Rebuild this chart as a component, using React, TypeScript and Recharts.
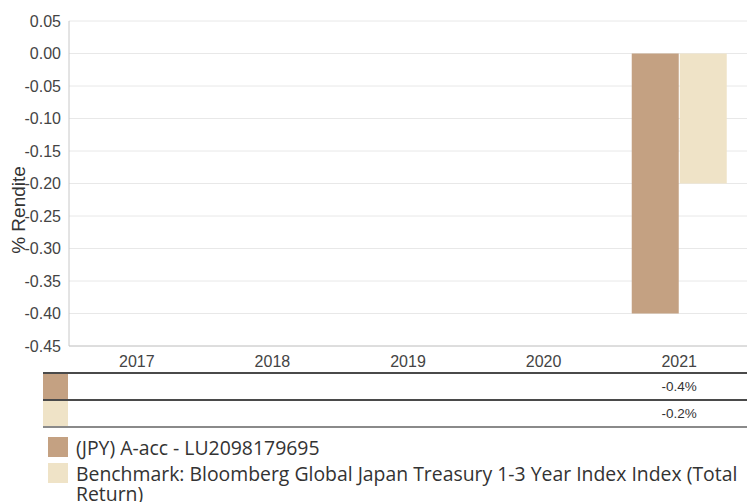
import React from 'react';
import { BarChart, Bar, XAxis, YAxis, CartesianGrid, Label } from 'recharts';

const categories = ['2017', '2018', '2019', '2020', '2021'];
const fundValues: (number | null)[] = [null, null, null, null, -0.4];
const benchValues: (number | null)[] = [null, null, null, null, -0.2];
const yTicks = [0.05, 0.0, -0.05, -0.1, -0.15, -0.2, -0.25, -0.3, -0.35, -0.4, -0.45];
const seriesNames = [
  '(JPY) A-acc - LU2098179695',
  'Benchmark: Bloomberg Global Japan Treasury 1-3 Year Index Index (Total Return)',
];
const seriesColors = ['#C4A182', '#EFE3C7'];
const seriesValues = [fundValues, benchValues];

const data = categories.map((year, i) => ({ year, fund: fundValues[i], bench: benchValues[i] }));

const W = 747;
const CHART_H = 372;
const Y_AXIS_W = 69;
const COL_W = (W - Y_AXIS_W) / categories.length;
const TICK_FONT = 'Liberation Sans, Arial, sans-serif';

export default function App() {
  return (
    <div style={{ position: 'absolute', left: 0, top: 0, width: W, height: 502, background: '#fff', overflow: 'hidden' }}>
      <BarChart
        width={W}
        height={CHART_H}
        data={data}
        margin={{ top: 21, right: 0, bottom: 0, left: 0 }}
        barCategoryGap="15%"
        barGap={1}
      >
        <CartesianGrid vertical={false} stroke="#e8e8e8" />
        <XAxis
          dataKey="year"
          height={26}
          tickLine={false}
          axisLine={{ stroke: '#c8c8c8' }}
          tickMargin={4}
          tick={{ fill: '#444', fontSize: 16, fontFamily: TICK_FONT }}
        />
        <YAxis
          width={Y_AXIS_W}
          domain={[-0.45, 0.05]}
          ticks={yTicks}
          interval={0}
          allowDataOverflow
          tickLine={false}
          axisLine={{ stroke: '#c8c8c8' }}
          tickFormatter={(v: number) => v.toFixed(2)}
          tick={{ fill: '#444', fontSize: 16, fontFamily: TICK_FONT }}
        >
          <Label
            content={() => (
              <text
                x={25}
                y={210}
                transform="rotate(-90, 25, 210)"
                textAnchor="middle"
                fill="#333"
                fontSize={19}
                fontFamily={TICK_FONT}
              >
                % Rendite
              </text>
            )}
          />
        </YAxis>
        <Bar dataKey="fund" fill={seriesColors[0]} isAnimationActive={false} />
        <Bar dataKey="bench" fill={seriesColors[1]} isAnimationActive={false} />
      </BarChart>

      <div style={{ position: 'absolute', left: 43, top: 372, width: W - 43 }}>
        {seriesValues.map((vals, r) => (
          <div
            key={r}
            style={{
              display: 'flex',
              height: 25,
              borderTop: '2px solid #4a4a4a',
              borderBottom: r === seriesValues.length - 1 ? '2px solid #8a8a8a' : 'none',
            }}
          >
            <div style={{ width: 25, height: 25, background: seriesColors[r], marginRight: 1 }} />
            {vals.map((v, i) => (
              <div
                key={i}
                style={{
                  width: COL_W,
                  textAlign: 'center',
                  lineHeight: '25px',
                  fontSize: 13.5,
                  color: '#333',
                  fontFamily: TICK_FONT,
                }}
              >
                {v == null ? '' : `${v.toFixed(1)}%`}
              </div>
            ))}
          </div>
        ))}
      </div>

      <div style={{ position: 'absolute', left: 48, top: 437, width: 699, fontFamily: 'Open Sans, sans-serif', fontSize: 19.4, color: '#333' }}>
        {seriesNames.map((name, i) => (
          <div key={i} style={{ display: 'flex', alignItems: 'flex-start', marginBottom: 5 }}>
            <div style={{ width: 20, height: 20, background: seriesColors[i], flex: 'none' }} />
            <div style={{ marginLeft: 8, marginTop: 1, lineHeight: '20px', width: 671 }}>{name}</div>
          </div>
        ))}
      </div>
    </div>
  );
}
